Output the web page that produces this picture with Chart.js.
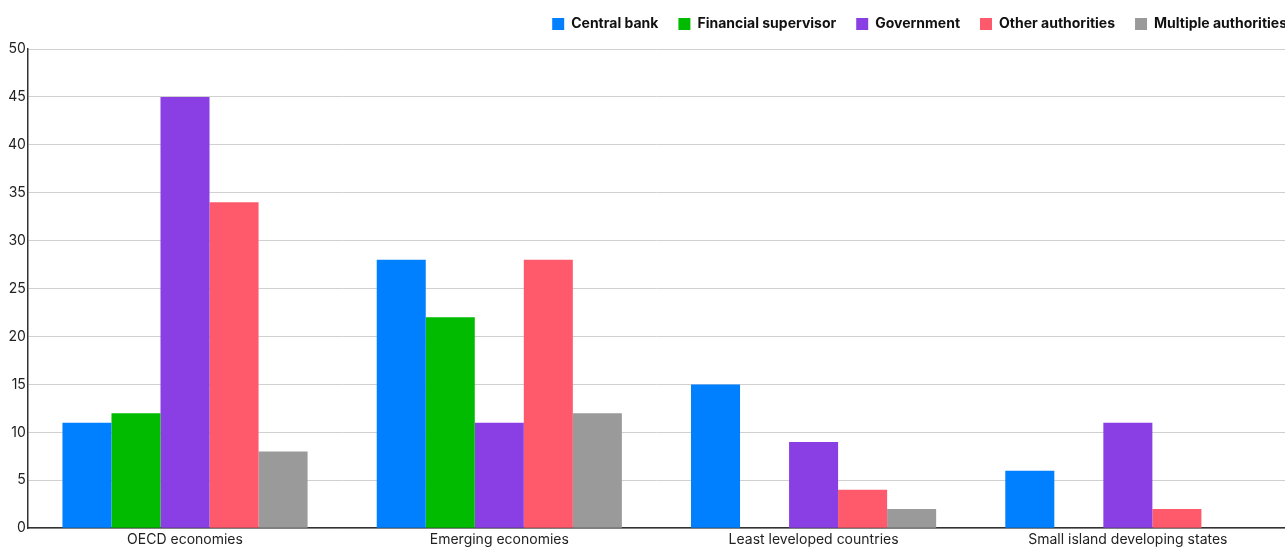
<!DOCTYPE html>
<html>
<head>
<meta charset="utf-8">
<script src="https://cdn.jsdelivr.net/npm/chart.js@4"></script>
<style>
  html, body { margin: 0; padding: 0; background: #fff; overflow: hidden; }
  #wrap { width: 1285px; height: 551px; }
</style>
</head>
<body>
<div id="wrap"><canvas id="barChartCanvas"></canvas></div>
<script>
// chart data
var categories = ['OECD economies', 'Emerging economies', 'Least leveloped countries', 'Small island developing states'];
var centralBank = [11, 28, 15, 6];
var financialSupervisor = [12, 22, null, null];
var government = [45, 11, 9, 11];
var otherAuthorities = [34, 28, 4, 2];
var multipleAuthorities = [8, 12, 2, null];
var yTicks = [0, 5, 10, 15, 20, 25, 30, 35, 40, 45, 50];

// nudge the legend to the top right corner
var legendShift = {
    id: 'legendShift',
    afterLayout: function(chart) {
        var lg = chart.legend;
        lg.left += 22; lg.right += 22;
        lg.top -= 8; lg.bottom -= 8;
    }
};

var ctx = document.getElementById('barChartCanvas').getContext('2d');
var myChart = new Chart(ctx, {
    type: 'bar',
    data: {
        labels: categories,
        datasets: [
            { label: 'Central bank', data: centralBank, backgroundColor: '#0080ff' },
            { label: 'Financial supervisor', data: financialSupervisor, backgroundColor: '#00bb00' },
            { label: 'Government', data: government, backgroundColor: '#8a3fe4' },
            { label: 'Other authorities', data: otherAuthorities, backgroundColor: '#ff5a6b' },
            { label: 'Multiple authorities', data: multipleAuthorities, backgroundColor: '#9a9a9a' }
        ]
    },
    plugins: [legendShift],
    options: {
        responsive: true,
        maintainAspectRatio: false,
        animation: false,
        categoryPercentage: 0.78,
        barPercentage: 1.0,
        layout: { padding: { left: 6, right: 0, top: 5, bottom: 0 } },
        plugins: {
            tooltip: { enabled: false },
            legend: {
                position: 'top',
                align: 'end',
                labels: {
                    boxWidth: 12,
                    boxHeight: 12,
                    padding: 20,
                    color: '#111',
                    font: { family: 'Inter', size: 14, weight: 'bold' }
                }
            }
        },
        scales: {
            x: {
                grid: { display: false, drawTicks: false, tickLength: 0 },
                border: { color: '#333', width: 1.5 },
                ticks: {
                    color: '#222',
                    padding: 3,
                    maxRotation: 0,
                    font: { family: 'Inter', size: 14 }
                }
            },
            y: {
                min: 0,
                max: 50,
                afterBuildTicks: function(axis) {
                    axis.ticks = yTicks.map(function(v) { return { value: v }; });
                },
                grid: { color: '#d0d0d0', lineWidth: 1, drawTicks: false },
                border: { color: '#333', width: 1.5 },
                ticks: {
                    color: '#222',
                    padding: 2,
                    font: { family: 'Inter', size: 14 }
                }
            }
        }
    }
});
</script>
</body>
</html>
